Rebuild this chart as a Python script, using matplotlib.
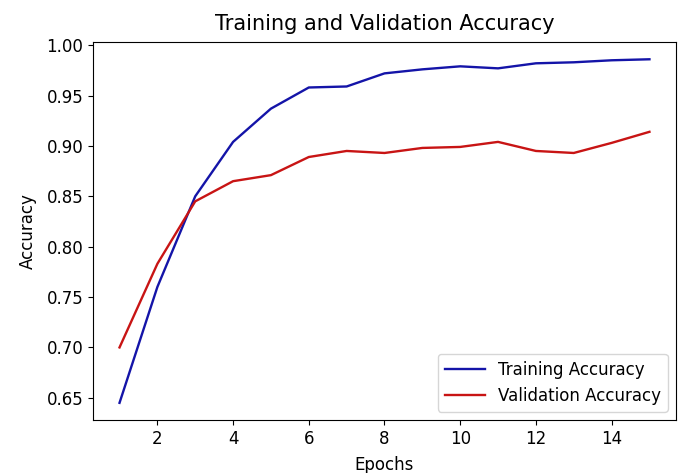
import matplotlib
matplotlib.use("Agg")
import matplotlib.pyplot as plt

epochs = list(range(1, 16))
train_acc = [0.645, 0.760, 0.850, 0.904, 0.937, 0.958, 0.959, 0.972,
             0.976, 0.979, 0.977, 0.982, 0.983, 0.985, 0.986]
val_acc = [0.700, 0.783, 0.845, 0.865, 0.871, 0.889, 0.895, 0.893,
           0.898, 0.899, 0.904, 0.895, 0.893, 0.903, 0.914]

fig = plt.figure(figsize=(6.81, 4.73), dpi=100)
ax = fig.add_axes([0.1366, 0.112, 0.856, 0.799])
ax.plot(epochs, train_acc, color="#1414a8", linewidth=1.7, label="Training Accuracy")
ax.plot(epochs, val_acc, color="#c81414", linewidth=1.7, label="Validation Accuracy")
ax.set_title("Training and Validation Accuracy", fontsize=15, pad=9)
ax.set_xlabel("Epochs", fontsize=12, labelpad=6)
ax.set_ylabel("Accuracy", fontsize=12, labelpad=7)
ax.tick_params(labelsize=12)
ax.legend(loc="lower right", fontsize=12, handlelength=2.4)

fig.savefig("out.png", dpi=100)
